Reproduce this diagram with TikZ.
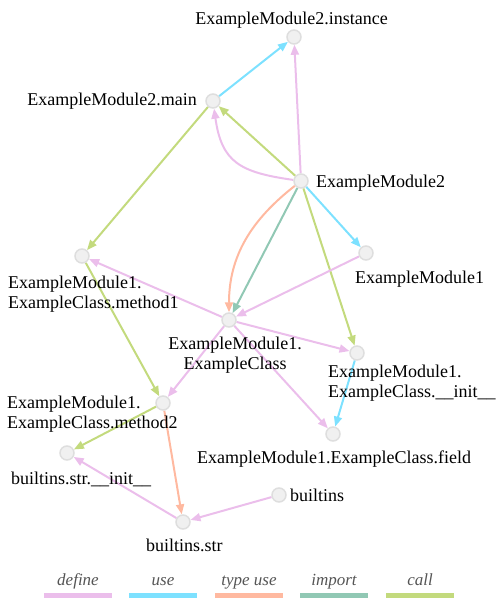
\documentclass[tikz,border=0pt]{standalone}
\usepackage{fontspec}
\setmainfont{Liberation Serif}
\usetikzlibrary{arrows.meta,backgrounds}
\definecolor{cdefine}{RGB}{235,190,235}
\definecolor{cuse}{RGB}{125,225,255}
\definecolor{ctypeuse}{RGB}{255,185,160}
\definecolor{cimport}{RGB}{145,200,180}
\definecolor{ccall}{RGB}{195,218,125}
\definecolor{nodefill}{RGB}{240,240,240}
\definecolor{nodeline}{RGB}{222,222,222}
\definecolor{legtext}{RGB}{85,85,85}
\tikzset{
  dot/.style={circle, fill=nodefill, draw=nodeline, line width=1.5pt, minimum size=14pt, inner sep=0pt},
  lbl/.style={font=\fontsize{18}{20}\selectfont, inner sep=0pt, align=left},
  legl/.style={font=\fontsize{17}{20}\selectfont\itshape, text=legtext, inner sep=0pt, anchor=base},
  legbar/.style={line width=5pt},
  rel/.style={line width=2pt, -{Triangle[length=10pt,width=8pt]}},
  reldefine/.style={rel, draw=cdefine},
  reluse/.style={rel, draw=cuse},
  reltypeuse/.style={rel, draw=ctypeuse},
  relimport/.style={rel, draw=cimport},
  relcall/.style={rel, draw=ccall},
}
\begin{document}
\begin{tikzpicture}[x=1pt,y=1pt]
\useasboundingbox (0,0) rectangle (498,-599);
% nodes
\node[dot] (inst) at (294,-37) {};
\node[dot] (main) at (213,-101) {};
\node[dot] (em2) at (301,-181) {};
\node[dot] (em1) at (366,-253) {};
\node[dot] (m1) at (82,-256) {};
\node[dot] (cls) at (229,-320) {};
\node[dot] (init) at (357,-353) {};
\node[dot] (m2) at (163,-403) {};
\node[dot] (field) at (333,-434) {};
\node[dot] (strinit) at (67,-453) {};
\node[dot] (bi) at (279,-495) {};
\node[dot] (str) at (183,-522) {};
% labels (multi-line labels are anchored on the baseline of their last line)
\node[lbl, anchor=base] (l-inst) at (291.5,-25) {ExampleModule2.instance};
\node[lbl, anchor=base east] (l-main) at (197,-106) {ExampleModule2.main};
\node[lbl, anchor=base west] (l-em2) at (316,-187) {ExampleModule2};
\node[lbl, anchor=base west] (l-em1) at (355,-283) {ExampleModule1};
\node[lbl, anchor=base west] (l-m1) at (8,-308) {ExampleModule1.\\ExampleClass.method1};
\node[lbl, align=center, anchor=base] (l-cls) at (235,-369) {ExampleModule1.\\ExampleClass};
\node[lbl, anchor=base west] (l-init) at (328,-397) {ExampleModule1.\\ExampleClass.\_\_init\_\_};
\node[lbl, anchor=base west] (l-m2) at (7,-428) {ExampleModule1.\\ExampleClass.method2};
\node[lbl, anchor=base west] (l-field) at (197,-463) {ExampleModule1.ExampleClass.field};
\node[lbl, anchor=base west] (l-strinit) at (11,-484) {builtins.str.\_\_init\_\_};
\node[lbl, anchor=base west] (l-bi) at (290,-501) {builtins};
\node[lbl, anchor=base west] (l-str) at (146,-551) {builtins.str};
% edges
\begin{pgfonlayer}{background}
\draw[reluse] (main) -- (inst);
\draw[reldefine] (em2) -- (inst);
\draw[relcall] (em2) -- (main);
\draw[reldefine] (em2) to[out=172,in=-82,looseness=1.3] (main);
\draw[relcall] (main) -- (m1);
\draw[reltypeuse] (em2) to[out=218,in=90] (cls);
\draw[relimport] (em2) -- (cls);
\draw[reluse] (em2) -- (em1);
\draw[relcall] (em2) -- (init);
\draw[reldefine] (em1) -- (cls);
\draw[reldefine] (cls) -- (m1);
\draw[reldefine] (cls) -- (init);
\draw[reldefine] (cls) -- (m2);
\draw[reldefine] (cls) -- (field);
\draw[relcall] (m1) -- (m2);
\draw[reluse] (init) -- (field);
\draw[relcall] (m2) -- (strinit);
\draw[reltypeuse] (m2) -- (str);
\draw[reldefine] (bi) -- (str);
\draw[reldefine] (str) -- (strinit);
\end{pgfonlayer}
% legend
\node[legl] (leg-define) at (78,-585) {define};
\node[legl] (leg-use) at (163,-585) {use};
\node[legl] (leg-typeuse) at (249,-585) {type use};
\node[legl] (leg-import) at (334,-585) {import};
\node[legl] (leg-call) at (420,-585) {call};
\draw[legbar, cdefine] (44,-595.5) -- (112,-595.5);
\draw[legbar, cuse] (129,-595.5) -- (197,-595.5);
\draw[legbar, ctypeuse] (215,-595.5) -- (283,-595.5);
\draw[legbar, cimport] (300,-595.5) -- (368,-595.5);
\draw[legbar, ccall] (386,-595.5) -- (454,-595.5);
\end{tikzpicture}
\end{document}
